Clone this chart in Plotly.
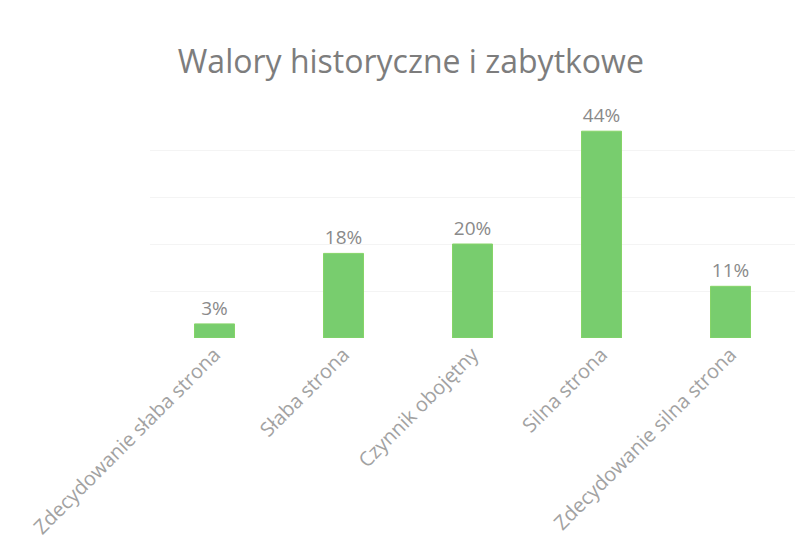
import plotly.graph_objects as go

# Survey answers for "historical and heritage values"
categories = [
    "Zdecydowanie słaba strona",
    "Słaba strona",
    "Czynnik obojętny",
    "Silna strona",
    "Zdecydowanie silna strona",
]
shares = [3, 18, 20, 44, 11]
labels = [f"{v}%" for v in shares]

fig = go.Figure(
    go.Bar(
        x=categories,
        y=shares,
        text=labels,
        textposition="outside",
        cliponaxis=False,
        textfont=dict(family="Open Sans", size=19, color="#8a8a8a"),
        marker=dict(color="#78cd6e", line=dict(color="#86d468", width=1)),
        width=0.31,
    )
)

fig.update_layout(
    width=804,
    height=556,
    margin=dict(l=150, r=9, t=103, b=218),
    paper_bgcolor="white",
    plot_bgcolor="white",
    showlegend=False,
    title=dict(
        text="Walory historyczne i zabytkowe",
        x=0.511,
        xanchor="center",
        y=0.888,
        yanchor="middle",
        font=dict(family="Open Sans", size=32, color="#7d7d7d"),
    ),
    xaxis=dict(
        tickangle=-45,
        tickfont=dict(family="Open Sans", size=20, color="#a2a2a2"),
        showline=False,
        showgrid=False,
        ticks="",
    ),
    yaxis=dict(
        range=[0, 50],
        dtick=10,
        showticklabels=False,
        showgrid=True,
        gridcolor="#f4f4f4",
        zeroline=False,
        showline=False,
    ),
)

fig.write_html("out.html")
